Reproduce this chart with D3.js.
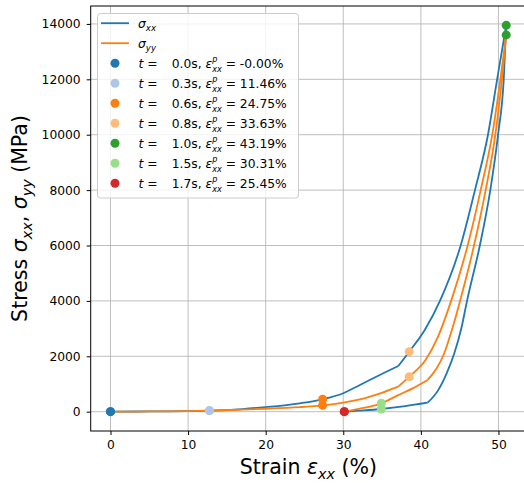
<!DOCTYPE html>
<html>
<head>
<meta charset="utf-8">
<script src="https://cdn.jsdelivr.net/npm/d3@7"></script>
<style>
  body { margin: 0; background: #fff; }
  text { font-family: "DejaVu Sans", sans-serif; fill: #000; }
</style>
</head>
<body>
<svg id="chart" width="524" height="483"></svg>
<script>
// stress-strain history (strain %, stress MPa)
const xxLoadLow = [[0,0],[5,10],[12.8,40],[17,95],[20,165],[24.4,303],[27.34,447],[30,664],[32.15,964],[35.15,1386],[37.09,1650]];
const xxLoadHigh = [[37.09,1650],[38.5,2167],[40.5,2950],[42.46,4000],[45.13,6000],[46.97,8000],[48.65,10000],[49.83,12000],[51,13950]];
const yyLoadLow = [[0,0],[5,8],[12.8,38],[17,75],[20,105],[24.4,165],[27.34,231],[30,330],[32.15,448],[35.15,700],[37.09,903]];
const yyLoadHigh = [[37.09,903],[38.5,1264],[40.6,1867],[42.2,2700],[43.9,4000],[46.03,6000],[47.71,8000],[49.2,10000],[50.25,12000],[51,13604]];
const xxUnloadLow = [[30.13,0],[32,35],[34.9,97],[38,200],[40.87,325]];
const xxUnloadHigh = [[40.87,325],[42.2,760],[43.35,1400],[44.3,2100],[45.25,3050],[45.95,4000],[47.6,6000],[48.95,8000],[49.95,10000],[50.68,12000],[51,13950]];
const yyUnloadLow = [[30.13,0],[32,100],[34.9,303],[37.09,600],[39,850],[40.87,1145]];
const yyUnloadHigh = [[40.87,1145],[42,1550],[43,2100],[44,2950],[45.05,4000],[46.85,6000],[48.35,8000],[49.6,10000],[50.45,12000],[51,13604]];

// snapshots
const times = ["0.0", "0.3", "0.6", "0.8", "1.0", "1.5", "1.7"];
const plastic = ["-0.00", "11.46", "24.75", "33.63", "43.19", "30.31", "25.45"];
const strainAt = [0, 12.75, 27.34, 38.5, 51, 34.9, 30.13];
const sxxAt = [0, 40, 447, 2167, 13950, 97, 0];
const syyAt = [0, 38, 231, 1264, 13604, 303, 0];
const snapColors = ["#1f77b4", "#aec7e8", "#ff7f0e", "#ffbb78", "#2ca02c", "#98df8a", "#d62728"];

const xTicks = [0, 10, 20, 30, 40, 50];
const yTicks = [0, 2000, 4000, 6000, 8000, 10000, 12000, 14000];

const svg = d3.select("#chart");
const W = 524, H = 483;
svg.append("rect").attr("width", W).attr("height", H).attr("fill", "#fff");

const pL = 90.7, pR = 526, pT = 6, pB = 431;
const x = d3.scaleLinear().domain([-2.55, 53.55]).range([pL, pR]);
const y = d3.scaleLinear().domain([-697.5, 14647.5]).range([pB, pT]);

// grid
const grid = svg.append("g");
grid.selectAll(".gx").data(xTicks).enter().append("line")
  .attr("x1", d => x(d)).attr("x2", d => x(d)).attr("y1", pT).attr("y2", pB)
  .attr("stroke", "#b0b0b0").attr("stroke-width", 1).attr("opacity", 0.8);
grid.selectAll(".gy").data(yTicks).enter().append("line")
  .attr("x1", pL).attr("x2", pR).attr("y1", d => y(d)).attr("y2", d => y(d))
  .attr("stroke", "#b0b0b0").attr("stroke-width", 1).attr("opacity", 0.8);

// curves
const line = d3.line().x(d => x(d[0])).y(d => y(d[1])).curve(d3.curveMonotoneX);
const curves = [
  [xxLoadLow, "#1f77b4"], [xxLoadHigh, "#1f77b4"], [xxUnloadLow, "#1f77b4"], [xxUnloadHigh, "#1f77b4"],
  [yyLoadLow, "#ff7f0e"], [yyLoadHigh, "#ff7f0e"], [yyUnloadLow, "#ff7f0e"], [yyUnloadHigh, "#ff7f0e"]
];
svg.append("g").selectAll("path").data(curves).enter().append("path")
  .attr("d", d => line(d[0]))
  .attr("fill", "none").attr("stroke", d => d[1]).attr("stroke-width", 1.8)
  .attr("stroke-linejoin", "round");

// snapshot markers
const pts = [];
strainAt.forEach((s, i) => {
  pts.push({ s: s, v: sxxAt[i], c: snapColors[i] });
  pts.push({ s: s, v: syyAt[i], c: snapColors[i] });
});
svg.append("g").selectAll("circle").data(pts).enter().append("circle")
  .attr("cx", d => x(d.s)).attr("cy", d => y(d.v)).attr("r", 4.5)
  .attr("fill", d => d.c);

// axes
const xAxis = svg.append("g").attr("transform", `translate(0,${pB})`)
  .call(d3.axisBottom(x).tickValues(xTicks).tickSize(4).tickPadding(5));
const yAxis = svg.append("g").attr("transform", `translate(${pL},0)`)
  .call(d3.axisLeft(y).tickValues(yTicks).tickFormat(d3.format("d")).tickSize(4).tickPadding(6));
[xAxis, yAxis].forEach(a => {
  a.select(".domain").remove();
  a.selectAll("text").attr("font-size", 12.3).attr("font-family", "DejaVu Sans");
  a.selectAll("line").attr("stroke", "#000").attr("stroke-width", 1);
});
svg.append("rect").attr("x", pL).attr("y", pT).attr("width", pR - pL).attr("height", pB - pT)
  .attr("fill", "none").attr("stroke", "#000").attr("stroke-width", 1);

// one text element, tspans placed by hand for italics and sub/superscripts
function rich(parent, x0, y0, parts, fs) {
  const txt = parent.append("text").attr("font-size", fs).style("white-space", "pre");
  let cx = x0, held = 0;
  parts.forEach(p => {
    if (p.at !== undefined) cx = p.at;
    const ts = txt.append("tspan")
      .attr("x", cx).attr("y", y0 + (p.dy || 0) * fs)
      .attr("font-size", fs * (p.scale || 1))
      .attr("font-style", p.it ? "italic" : "normal")
      .text(p.t);
    const w = ts.node().getComputedTextLength();
    if (p.hold) { held = w; }
    else { cx += Math.max(w, held); held = 0; }
  });
  return cx - x0;
}

// axis labels
const xl = svg.append("g");
const wx = rich(xl, 0, 0, [{ t: "Strain " }, { t: "ε", it: true },
  { t: "xx", it: true, scale: 0.7, dy: 0.22 }, { t: " (%)" }], 20.5);
xl.attr("transform", `translate(${(pL + pR) / 2 - wx / 2},474)`);

const yl = svg.append("g");
const wy = rich(yl, 0, 0, [{ t: "Stress " }, { t: "σ", it: true }, { t: "xx", it: true, scale: 0.7, dy: 0.22 },
  { t: ", " }, { t: "σ", it: true }, { t: "yy", it: true, scale: 0.7, dy: 0.22 }, { t: " (MPa)" }], 20.5);
yl.attr("transform", `translate(27,${(pT + pB) / 2}) rotate(-90) translate(${-wy / 2},0)`);

// legend
const lg = svg.append("g");
lg.append("rect").attr("x", 97.5).attr("y", 13.5).attr("width", 201).attr("height", 184.5)
  .attr("rx", 3).attr("fill", "#fff").attr("fill-opacity", 0.8)
  .attr("stroke", "#cccccc").attr("stroke-width", 1);
const rowY = i => 23.2 + i * 20;
const fsL = 12.3;
[["#1f77b4", "xx"], ["#ff7f0e", "yy"]].forEach((d, i) => {
  lg.append("line").attr("x1", 101).attr("x2", 129).attr("y1", rowY(i)).attr("y2", rowY(i))
    .attr("stroke", d[0]).attr("stroke-width", 1.8);
  rich(lg, 138, rowY(i) + 4.4, [{ t: "σ", it: true }, { t: d[1], it: true, scale: 0.7, dy: 0.25 }], fsL);
});
times.forEach((t, i) => {
  const yy = rowY(i + 2);
  lg.append("circle").attr("cx", 115).attr("cy", yy).attr("r", 4.5).attr("fill", snapColors[i]);
  rich(lg, 138.5, yy + 4.4, [
    { t: "t", it: true }, { t: " =" },
    { t: t + "s, ", at: 171.7 },
    { t: "ε", it: true },
    { t: "p", it: true, scale: 0.66, dy: -0.42, hold: true },
    { t: "xx", it: true, scale: 0.66, dy: 0.32 },
    { t: " = " + plastic[i] + "%" }
  ], fsL);
});
</script>
</body>
</html>
